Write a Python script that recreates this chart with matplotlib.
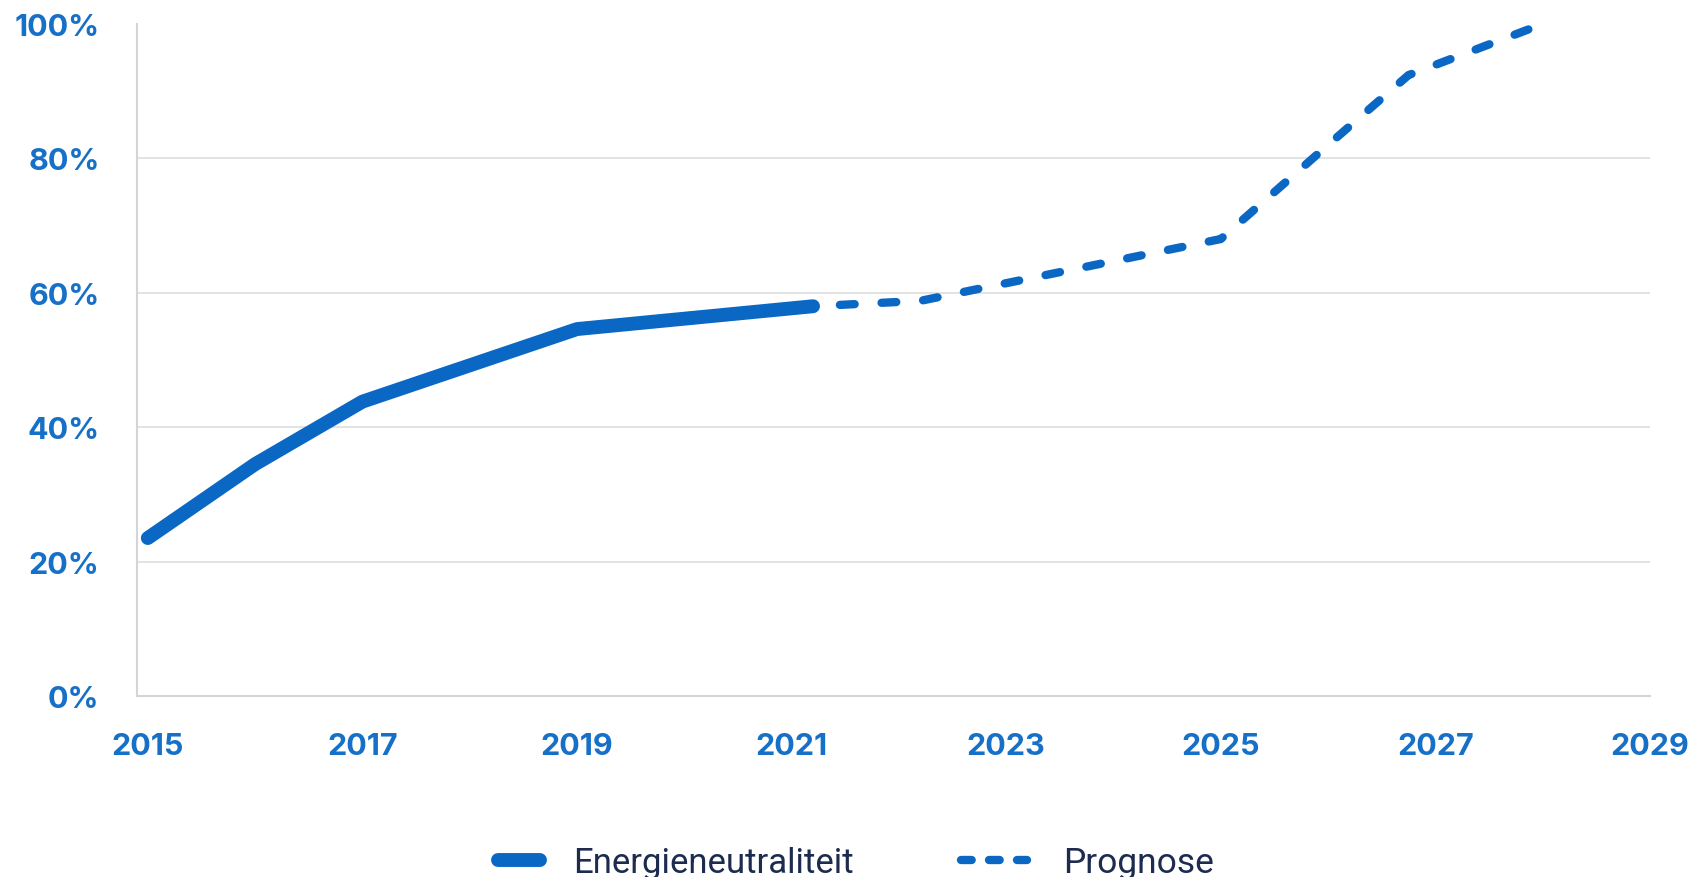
import matplotlib.pyplot as plt
from matplotlib.lines import Line2D

# measured share of energy neutrality, and the forecast continuing from its last value
years_actual = [2015, 2016, 2017, 2019, 2021.2]
share_actual = [23.5, 34.5, 43.8, 54.6, 58.0]

years_forecast = [2021.2, 2022.2, 2025, 2026, 2026.75, 2028]
share_forecast = [58.0, 58.8, 68.0, 82.0, 92.4, 100]

year_ticks = [2015, 2017, 2019, 2021, 2023, 2025, 2027, 2029]
pct_ticks = [0, 20, 40, 60, 80, 100]

blue = '#0a68c4'
label_blue = '#1670c8'
navy = '#1d2b4f'
grey = '#e0e0e0'

W, H = 1705, 878
fig = plt.figure(figsize=(W / 100, H / 100), dpi=100)
ax = fig.add_axes([0.0804, 0.2062, 0.8873, 0.7653])

ax.plot(years_actual, share_actual, color=blue, lw=10,
        solid_capstyle='round', solid_joinstyle='round',
        clip_on=False, zorder=3)
ax.plot(years_forecast, share_forecast, color=blue, lw=6,
        linestyle=(1.77, (1.77, 3.23)), dash_capstyle='round',
        clip_on=False, zorder=3)

ax.set_xlim(2014.9, 2029.0)
ax.set_ylim(0, 100)
ax.set_xticks(year_ticks)
ax.set_xticklabels([str(y) for y in year_ticks])
ax.set_yticks(pct_ticks)
ax.set_yticklabels([f'{p}%' for p in pct_ticks])
ax.tick_params(length=0, labelcolor=label_blue, labelsize=22)
ax.tick_params(axis='x', pad=26)
ax.tick_params(axis='y', pad=27)
for lab in ax.get_xticklabels() + ax.get_yticklabels():
    lab.set_fontfamily('Inter')
    lab.set_fontweight('bold')

ax.yaxis.grid(True, color=grey, lw=1.3)
gl = ax.get_ygridlines()
gl[0].set_visible(False)
gl[-1].set_visible(False)

for side in ['top', 'right']:
    ax.spines[side].set_visible(False)
for side in ['left', 'bottom']:
    ax.spines[side].set_color('#d4d4d4')
    ax.spines[side].set_linewidth(1.5)

# legend row under the chart, laid out in pixel positions
def fx(px):
    return px / W

def fy(px):
    return (H - px) / H

fig.add_artist(Line2D([fx(498), fx(540)], [fy(861), fy(861)], color=blue, lw=10,
                      solid_capstyle='round', transform=fig.transFigure))
fig.text(fx(573), fy(873), 'Energieneutraliteit', color=navy, family='Roboto',
         size=25, va='baseline', ha='left')
fig.add_artist(Line2D([fx(961), fx(1027)], [fy(861), fy(861)], color=blue, lw=6,
                      linestyle=(0, (1.28, 2.08)), dash_capstyle='round',
                      transform=fig.transFigure))
fig.text(fx(1063), fy(873), 'Prognose', color=navy, family='Roboto',
         size=25.5, va='baseline', ha='left')

fig.savefig('out.png', dpi=100, facecolor='white')
